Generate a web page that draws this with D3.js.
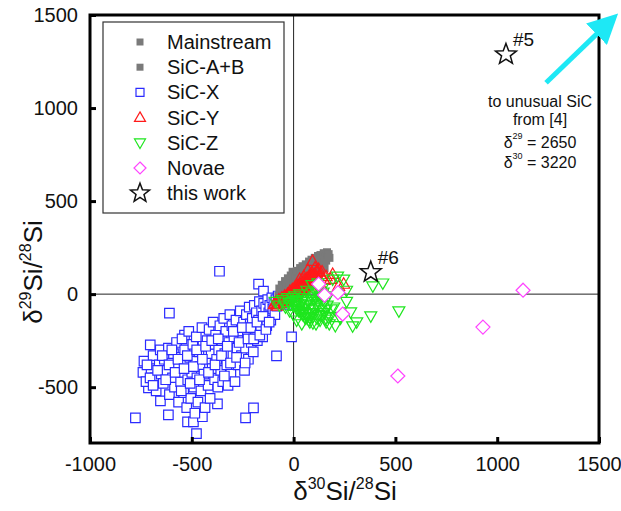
<!DOCTYPE html>
<html>
<head>
<meta charset="utf-8">
<script src="https://cdn.jsdelivr.net/npm/d3@7"></script>
<style>
  body { margin: 0; background: #fff; }
  text { font-family: "Liberation Sans", Arial, sans-serif; fill: #111; }
</style>
</head>
<body>
<svg id="chart" width="621" height="511"></svg>
<script>
// delta30Si, delta29Si pairs
var sicX = [
  [-777,-665],[-615,-649],[-521,-686],[-492,-686],[-477,-750],[-448,-659],[-374,-590],[-236,-665],[-197,-611],
  [-654,-574],[-713,-504],[-704,-273],[-610,-102],[-536,-220],[-364,123],[-172,54],[-148,16],[-10,-230],[-84,-332],
  [-735,-360],[-740,-420],[-725,-470],[-700,-400],[-690,-330],[-680,-450],[-675,-520],[-660,-380],[-655,-300],[-650,-430],[-640,-480],[-635,-350],
  [-625,-410],[-615,-290],[-610,-540],[-600,-370],[-595,-450],[-590,-320],[-585,-500],[-575,-260],[-570,-400],[-565,-580],[-560,-340],[-555,-470],
  [-548,-240],[-545,-420],[-540,-530],[-535,-300],[-530,-380],[-525,-610],[-520,-460],[-515,-200],[-510,-340],[-505,-560],[-500,-420],[-495,-270],[-490,-500],[-485,-640],[-482,-360],
  [-478,-230],[-475,-450],[-470,-580],[-465,-310],[-460,-390],[-455,-520],[-450,-180],[-445,-280],[-440,-430],[-435,-610],[-430,-350],[-425,-250],[-420,-490],[-415,-190],[-410,-560],[-405,-320],[-400,-400],
  [-395,-150],[-392,-270],[-388,-460],[-383,-220],[-378,-350],[-372,-500],[-368,-300],[-362,-170],[-358,-410],[-352,-250],[-348,-470],[-343,-130],[-338,-320],[-333,-200],[-328,-380],[-322,-490],
  [-318,-260],[-313,-110],[-308,-430],[-303,-170],[-298,-330],[-293,-230],[-288,-470],[-283,-140],[-278,-290],[-272,-380],[-266,-200],[-262,-90],[-256,-330],[-251,-250],[-246,-150],[-241,-410],
  [-236,-290],[-232,-110],[-227,-210],[-222,-350],[-218,-70],[-213,-160],[-208,-260],[-203,-130],[-198,-310],[-193,-60],[-188,-200],[-183,-100],[-178,-250],[-172,-140],[-168,-40],[-162,-180],
  [-157,-90],[-152,-230],[-147,-50],[-142,-130],[-137,-70],[-132,-170],[-127,-30],[-122,-100],[-117,-60],[-112,-140],[-107,-20],[-102,-80],[-97,-45],[-92,-110],[-87,-30],[-82,-65],[-76,-10],[-70,-50],
  [-62,-25],[-55,-5],[-48,-40],[-40,-20],[-33,-55],[-25,-30],[-15,-10],
  [-720,-380],[-705,-450],[-690,-490],[-668,-410],[-645,-330],[-628,-460],[-612,-380],[-598,-300],[-582,-420],[-568,-350],
  [-552,-520],[-538,-400],[-522,-330],[-508,-480],[-492,-390],[-476,-300],[-462,-460],[-448,-350],[-432,-280],[-418,-420],
  [-402,-250],[-386,-380],[-370,-240],[-354,-330],[-340,-440],[-326,-280],[-310,-370],[-296,-200],[-280,-340],[-268,-260],
  [-252,-180],[-238,-370],[-224,-240],[-210,-180],[-196,-240],[-180,-150],[-166,-220],[-150,-120],[-136,-190],[-120,-150]
];
var mainstream = [
  [-75,-10],[-70,30],[-62,10],[-58,50],[-52,-20],[-48,30],[-42,70],[-38,0],[-33,45],[-28,85],[-24,20],[-18,60],[-14,100],[-10,35],
  [-5,120],[0,70],[4,10],[8,95],[12,50],[16,125],[20,80],[24,30],[28,110],[32,140],[36,65],[40,100],[44,150],[48,45],[52,125],
  [56,85],[60,160],[64,115],[68,60],[72,145],[76,175],[80,100],[84,135],[88,185],[92,80],[96,160],[100,120],[104,195],[108,150],
  [112,100],[116,180],[120,205],[124,135],[128,170],[132,210],[136,120],[140,190],[144,160],[148,220],[152,140],[156,200],
  [160,180],[164,225],[168,200],[172,215],[176,195]
];
var sicAB = [[-45,-30],[-20,40],[10,15],[35,90],[60,75],[95,140],[125,185],[150,170]];
var sicY = [
  [-95,-55],[-85,-40],[-80,-64],[-72,-30],[-65,-50],[-58,-20],[-50,-40],[-44,-10],[-38,-30],[-30,0],[-24,-20],[-18,15],
  [-12,-5],[-6,25],[0,5],[6,35],[12,15],[18,45],[24,20],[30,55],[36,30],[42,65],[48,40],[54,75],[60,50],[66,85],[72,60],
  [78,100],[84,70],[90,115],[96,80],[93,177],[123,134],[110,95],[130,105],[150,75],[182,80],[192,107],[221,43],[246,54],
  [105,140],[140,120],[160,95],[70,130],[50,95],[30,80],[115,60],[135,45],
  [-90,-48],[-78,-52],[-68,-40],[-60,-35],[-52,-28],[-46,-25],[-40,-15],[-34,-12],[-26,-5],[-20,0],[-14,5],[-8,10],[-2,15],
  [4,20],[10,28],[16,30],[22,35],[28,40],[34,45],[40,50],[46,55],[52,60],[58,65],[64,70],[70,75],[76,80],[82,88],[88,95],
  [94,100],[100,105],[106,110],[112,118],[118,125],[-4,-15],[8,0],[20,10],[32,18],[44,25],[56,35],[68,45],[80,55],[92,62]
];
var sicZ = [
  [-90,-40],[-70,-60],[-55,-30],[-40,-70],[-30,-20],[-20,-90],[-10,-40],[0,-110],[5,-10],[10,-60],[15,-140],[20,-30],
  [25,-90],[30,0],[35,-50],[40,-160],[45,-110],[50,-20],[55,-70],[60,-130],[65,20],[70,-40],[75,-100],[80,-150],[85,-60],
  [90,10],[95,-120],[100,-30],[105,-85],[110,-160],[115,-50],[120,-10],[125,-110],[130,-140],[135,-70],[140,30],[145,-30],
  [150,-100],[160,-150],[165,-60],[170,-10],[180,-120],[185,-80],[192,80],[197,-70],[205,-170],[216,96],[230,-130],[246,80],
  [260,-40],[280,-96],[290,-171],[310,-150],[389,43],[438,59],[379,-118],[517,-91],[260,20],[120,60],[90,50],
  [-5,-20],[10,-35],[20,-50],[30,-65],[40,-80],[50,-95],[60,-105],[70,-120],[80,-125],[90,-100],[100,-75],[110,-55],
  [120,-40],[130,-20],[140,-5],[150,-45],[160,-85],[170,-125],[175,-160],[0,-60],[15,-80],[35,-100],[55,-125],[75,-140],
  [95,-155],[115,-130],[135,-115],[155,-135],[45,-40],[65,-55],[85,-30],[105,-15],[125,5],[145,10],[-15,-55],[-25,-45]
];
var novae = [[1127,21],[930,-177],[512,-440],[123,54],[152,-5],[218,8],[241,-107]];
var thisWork = [{name: "#5", x: 1043, y: 1288}, {name: "#6", x: 379, y: 118}];
var xTicks = [-1000, -500, 0, 500, 1000, 1500];
var yTicks = [-500, 0, 500, 1000, 1500];
var legendNames = ["Mainstream", "SiC-A+B", "SiC-X", "SiC-Y", "SiC-Z", "Novae", "this work"];
var noteLines = ["to unusual SiC", "from [4]"];
var noteDeltas = [["29", "2650"], ["30", "3220"]];
var arrowFrom = [1240, 1136], arrowTo = [1594, 1506];

var svg = d3.select("#chart");
var x = d3.scaleLinear().domain([-1000, 1500]).range([90, 599]);
var y = d3.scaleLinear().domain([-800, 1500]).range([443, 15]);

function squarePath(s) { return "M" + (-s/2) + "," + (-s/2) + "h" + s + "v" + s + "h" + (-s) + "Z"; }
function triPath(s, down) {
  var h = s * 0.87, d = down ? -1 : 1;
  return "M0," + (-d*h*0.6) + "L" + (s/2) + "," + (d*h*0.4) + "L" + (-s/2) + "," + (d*h*0.4) + "Z";
}
function diamondPath(r) { return "M0," + (-r) + "L" + r + ",0L0," + r + "L" + (-r) + ",0Z"; }
function starPath(ro, ri) {
  var p = [], i, a, r;
  for (i = 0; i < 10; i++) {
    a = -Math.PI / 2 + i * Math.PI / 5;
    r = i % 2 ? ri : ro;
    p.push([r * Math.cos(a), r * Math.sin(a)]);
  }
  return "M" + p.join("L") + "Z";
}

// crosshair at zero
svg.append("line").attr("x1", x(0)).attr("x2", x(0)).attr("y1", y(-800)).attr("y2", y(1500))
  .attr("stroke", "#222").attr("stroke-width", 1);
svg.append("line").attr("x1", x(-1000)).attr("x2", x(1500)).attr("y1", y(0)).attr("y2", y(0))
  .attr("stroke", "#222").attr("stroke-width", 1);

function drawSeries(data, path, stroke, fill, sw) {
  svg.append("g").selectAll("path").data(data).join("path")
    .attr("d", path)
    .attr("transform", function (d) { return "translate(" + x(d[0]) + "," + y(d[1]) + ")"; })
    .attr("fill", fill).attr("stroke", stroke).attr("stroke-width", sw);
}
drawSeries(sicX, squarePath(9.5), "#2b2bff", "#fff", 1.2);
drawSeries(mainstream, squarePath(8), "none", "#7a7a7a", 0);
drawSeries(sicAB, squarePath(8), "none", "#7a7a7a", 0);
drawSeries(sicY, triPath(12, false), "#ff1a1a", "none", 1.2);
drawSeries(sicZ, triPath(12, true), "#1ee61e", "none", 1.2);
drawSeries(novae, diamondPath(7), "#ff44ff", "#fff", 1.2);

// this work
var tw = svg.append("g").selectAll("g").data(thisWork).join("g")
  .attr("transform", function (d) { return "translate(" + x(d.x) + "," + y(d.y) + ")"; });
tw.append("path").attr("d", starPath(11, 4.6)).attr("fill", "none").attr("stroke", "#111").attr("stroke-width", 1.5);
tw.append("text").attr("x", 7).attr("y", -8).attr("font-size", 19).text(function (d) { return d.name; });

// frame
svg.append("rect").attr("x", x(-1000)).attr("y", y(1500)).attr("width", x(1500) - x(-1000)).attr("height", y(-800) - y(1500))
  .attr("fill", "none").attr("stroke", "#000").attr("stroke-width", 3);

// axes, ticks pointing inward
var xAxis = svg.append("g").attr("transform", "translate(0," + y(-800) + ")")
  .call(d3.axisBottom(x).tickValues(xTicks).tickFormat(String).tickSizeInner(-6).tickSizeOuter(0).tickPadding(14));
var yAxis = svg.append("g").attr("transform", "translate(" + x(-1000) + ",0)")
  .call(d3.axisLeft(y).tickValues(yTicks).tickFormat(String).tickSizeInner(-6).tickSizeOuter(0).tickPadding(12));
[xAxis, yAxis].forEach(function (a) {
  a.select(".domain").remove();
  a.selectAll(".tick line").attr("stroke", "#000").attr("stroke-width", 3);
  a.selectAll(".tick text").attr("font-size", 20).attr("font-family", "Liberation Sans, Arial, sans-serif").attr("fill", "#111");
});

// axis titles
var xt = svg.append("text").attr("x", 345).attr("y", 500).attr("text-anchor", "middle").attr("font-size", 26);
xt.append("tspan").text("\u03b4");
xt.append("tspan").attr("font-size", 16).attr("dy", -11).text("30");
xt.append("tspan").attr("dy", 11).text("Si/");
xt.append("tspan").attr("font-size", 16).attr("dy", -11).text("28");
xt.append("tspan").attr("dy", 11).text("Si");

var yt = svg.append("text").attr("transform", "translate(42,272) rotate(-90)").attr("text-anchor", "middle").attr("font-size", 26);
yt.append("tspan").text("\u03b4");
yt.append("tspan").attr("font-size", 16).attr("dy", -11).text("29");
yt.append("tspan").attr("dy", 11).text("Si/");
yt.append("tspan").attr("font-size", 16).attr("dy", -11).text("28");
yt.append("tspan").attr("dy", 11).text("Si");

// legend
var lg = svg.append("g");
lg.append("rect").attr("x", 103).attr("y", 22).attr("width", 181).attr("height", 191)
  .attr("fill", "#fff").attr("stroke", "#333").attr("stroke-width", 1.2);
var legendMarks = [
  {d: squarePath(7), stroke: "none", fill: "#7a7a7a"},
  {d: squarePath(7), stroke: "none", fill: "#7a7a7a"},
  {d: squarePath(8), stroke: "#2b2bff", fill: "#fff"},
  {d: triPath(11, false), stroke: "#ff1a1a", fill: "#fff"},
  {d: triPath(11, true), stroke: "#1ee61e", fill: "#fff"},
  {d: diamondPath(6), stroke: "#ff44ff", fill: "#fff"},
  {d: starPath(10, 4.2), stroke: "#111", fill: "none"}
];
legendNames.forEach(function (name, i) {
  var cy = 42 + i * 25.2;
  var m = legendMarks[i];
  lg.append("path").attr("d", m.d).attr("transform", "translate(140," + cy + ")")
    .attr("fill", m.fill).attr("stroke", m.stroke).attr("stroke-width", i === 6 ? 1.5 : 1.2);
  lg.append("text").attr("x", 167).attr("y", cy + 7).attr("font-size", 20).text(name);
});

// arrow to unusual grain
svg.append("defs").append("marker").attr("id", "head").attr("viewBox", "0 0 10 10")
  .attr("refX", 4).attr("refY", 5).attr("markerWidth", 6).attr("markerHeight", 6).attr("orient", "auto")
  .append("path").attr("d", "M0,0L10,5L0,10Z").attr("fill", "#1ee8f5");
svg.append("line").attr("x1", x(arrowFrom[0])).attr("y1", y(arrowFrom[1]))
  .attr("x2", x(arrowTo[0]) - 13).attr("y2", y(arrowTo[1]) + 12)
  .attr("stroke", "#1ee8f5").attr("stroke-width", 5).attr("marker-end", "url(#head)");

noteLines.forEach(function (t, i) {
  svg.append("text").attr("x", 540).attr("y", 107 + i * 18).attr("text-anchor", "middle").attr("font-size", 16).text(t);
});
noteDeltas.forEach(function (d, i) {
  var t = svg.append("text").attr("x", 540).attr("y", 148 + i * 20).attr("text-anchor", "middle").attr("font-size", 16);
  t.append("tspan").text("\u03b4");
  t.append("tspan").attr("font-size", 9).attr("dy", -9).text(d[0]);
  t.append("tspan").attr("dy", 9).text(" = " + d[1]);
});
</script>
</body>
</html>
